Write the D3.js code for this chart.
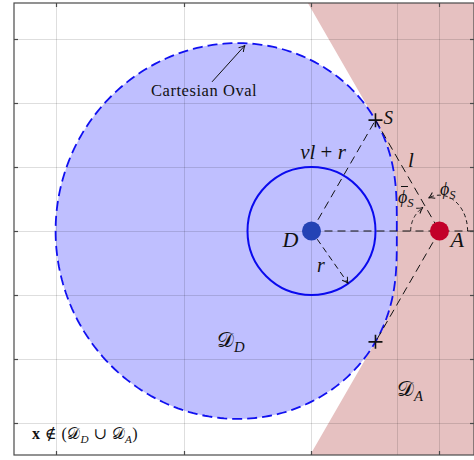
<!DOCTYPE html>
<html>
<head>
<meta charset="utf-8">
<script src="https://cdn.jsdelivr.net/npm/d3@7"></script>
<style>
  html, body { margin: 0; padding: 0; background: #fff; }
  svg { display: block; }
  text { font-family: "Liberation Serif", "DejaVu Serif", serif; fill: #111; }
</style>
</head>
<body>
<svg id="chart" width="474" height="460"></svg>
<script>
// ---- data ----------------------------------------------------------
const xTicks = [-4, -2, 0, 2];
const yTicks = [-3, -2, -1, 0, 1, 2, 3];
const xGridExtra = [4 / 3];          // rightmost point of the oval on the D–A axis
const pointD = [0, 0];               // defender
const pointA = [2, 0];               // attacker
const nu = 0.5;                      // speed ratio ν
const radiusR = 1;                   // capture radius r
const angleS = 60;                   // direction of S seen from D (degrees)
const angleRArrow = -55;             // direction of the r arrow (degrees)
const xDomain = [-4.65, 2.54];
const yDomain = [-3.5, 3.5625];

// ---- layout --------------------------------------------------------
const svg = d3.select("#chart");
const x = d3.scaleLinear().domain(xDomain).range([14, 474]);
const y = d3.scaleLinear().domain(yDomain).range([455, 3]);
const rad = Math.PI / 180;
const ux = 64; // pixels per unit (x and y share it)

// Cartesian oval |p - D| = ν|p - A| + r, in polar form around D
const distDA = Math.hypot(pointA[0] - pointD[0], pointA[1] - pointD[1]);
function ovalRho(thetaDeg) {
  const c = Math.cos(thetaDeg * rad);
  const a = 1 - nu * nu;
  const b = radiusR - nu * nu * distDA * c;
  const k = radiusR * radiusR - nu * nu * distDA * distDA;
  return (b + Math.sqrt(b * b - a * k)) / a;
}
function ovalPoint(thetaDeg) {
  const rho = ovalRho(thetaDeg);
  return [pointD[0] + rho * Math.cos(thetaDeg * rad), pointD[1] + rho * Math.sin(thetaDeg * rad)];
}
const ovalPts = d3.range(0, 360, 1).map(ovalPoint);
const pS = ovalPoint(angleS);
const pT = ovalPoint(-angleS);

// line from A through a point, extended to a horizontal edge
function extendTo(p, yEdge) {
  const t = (yEdge - pointA[1]) / (p[1] - pointA[1]);
  return [pointA[0] + t * (p[0] - pointA[0]), yEdge];
}
const topHit = extendTo(pS, yDomain[1]);
const botHit = extendTo(pT, yDomain[0]);

const line = d3.line().x(d => x(d[0])).y(d => y(d[1]));

// arrow marker
const defs = svg.append("defs");
defs.append("marker").attr("id", "arr")
  .attr("viewBox", "-7 -4 8 8").attr("refX", 0).attr("refY", 0)
  .attr("markerWidth", 8).attr("markerHeight", 8).attr("markerUnits", "userSpaceOnUse")
  .attr("orient", "auto")
  .append("path").attr("d", "M-6,-3.2 Q-2.5,-0.6 0,0 Q-2.5,0.6 -6,3.2")
  .attr("fill", "none").attr("stroke", "#111").attr("stroke-width", 1);

// ---- attacker region D_A ------------------------------------------
const arc = d3.range(-angleS, angleS + 0.5, 1).map(ovalPoint);
const pinkPoly = [topHit, [xDomain[1], yDomain[1]], [xDomain[1], yDomain[0]], botHit, pT, ...arc, pS];
svg.append("path").attr("d", line(pinkPoly) + "Z").attr("fill", "#e6c1c1");

// ---- defender region D_D (oval) -----------------------------------
svg.append("path").attr("d", line(ovalPts) + "Z").attr("fill", "#bfbfff");

// ---- grid ----------------------------------------------------------
const grid = svg.append("g").attr("stroke", "rgba(0,0,0,0.13)").attr("stroke-width", 1);
[...xTicks, ...xGridExtra].forEach(v => {
  grid.append("line").attr("x1", Math.round(x(v)) + 0.5).attr("x2", Math.round(x(v)) + 0.5)
    .attr("y1", y(yDomain[1])).attr("y2", y(yDomain[0]));
});
yTicks.forEach(v => {
  grid.append("line").attr("y1", Math.round(y(v)) + 0.5).attr("y2", Math.round(y(v)) + 0.5)
    .attr("x1", x(xDomain[0])).attr("x2", x(xDomain[1]));
});

// oval outline
svg.append("path").attr("d", line(ovalPts) + "Z").attr("fill", "none")
  .attr("stroke", "#1010f0").attr("stroke-width", 1.8).attr("stroke-dasharray", "10,5");

// capture circle
svg.append("circle").attr("cx", x(pointD[0])).attr("cy", y(pointD[1]))
  .attr("r", radiusR * ux).attr("fill", "none").attr("stroke", "#0a0aee").attr("stroke-width", 2);

// dashed construction lines
const dash = svg.append("g").attr("stroke", "#111").attr("stroke-width", 1).attr("fill", "none")
  .attr("stroke-dasharray", "8,5");
dash.append("path").attr("d", line([pointD, pS]));
dash.append("path").attr("d", line([pS, pointA]));
dash.append("path").attr("d", line([pointA, pT]));
dash.append("path").attr("d", line([pointD, [xDomain[1], 0]]));

// r arrow
const rEnd = [pointD[0] + radiusR * Math.cos(angleRArrow * rad), pointD[1] + radiusR * Math.sin(angleRArrow * rad)];
svg.append("path").attr("d", line([pointD, rEnd])).attr("stroke", "#111").attr("stroke-width", 1)
  .attr("stroke-dasharray", "6,4").attr("fill", "none").attr("marker-end", "url(#arr)");

// angle arcs at A
function arcPath(cx, cy, rx, ry, a0, a1) {
  return d3.range(0, 41).map(i => {
    const a = (a0 + (a1 - a0) * i / 40) * rad;
    return [cx + rx * Math.cos(a), cy + ry * Math.sin(a)];
  });
}
svg.append("path").attr("d", line(arcPath(pointA[0], pointA[1], 0.45, 0.45, 180, 125)))
  .attr("stroke", "#111").attr("stroke-width", 1).attr("stroke-dasharray", "4,3").attr("fill", "none")
  .attr("marker-end", "url(#arr)");
svg.append("path").attr("d", line(arcPath(pointA[0], pointA[1], 0.44, 0.56, 0, 113)))
  .attr("stroke", "#111").attr("stroke-width", 1).attr("stroke-dasharray", "4,3").attr("fill", "none")
  .attr("marker-end", "url(#arr)");

// Cartesian oval pointer
const ptrFrom = [-1.555, 2.33], ptrTo = [-1.04, 2.9];
svg.append("path").attr("d", line([ptrFrom, ptrTo])).attr("stroke", "#111").attr("stroke-width", 1)
  .attr("fill", "none").attr("marker-end", "url(#arr)");

// points D and A
svg.append("circle").attr("cx", x(pointD[0])).attr("cy", y(pointD[1])).attr("r", 9.5).attr("fill", "#2443b5");
svg.append("circle").attr("cx", x(pointA[0])).attr("cy", y(pointA[1])).attr("r", 9.5).attr("fill", "#c20029");

// tangent point markers
[pS, pT].forEach(p => {
  const cx = x(p[0]), cy = y(p[1]);
  svg.append("path").attr("d", `M${cx - 7},${cy}H${cx + 7}M${cx},${cy - 7}V${cy + 7}`)
    .attr("stroke", "#111").attr("stroke-width", 1.6);
});

// ---- frame and ticks ----------------------------------------------
const fr = svg.append("g").attr("stroke", "#4a4a4a").attr("stroke-width", 1.2).attr("fill", "none");
fr.append("rect").attr("x", x(xDomain[0])).attr("y", y(yDomain[1]))
  .attr("width", x(xDomain[1]) - x(xDomain[0])).attr("height", y(yDomain[0]) - y(yDomain[1]));
xTicks.forEach(v => {
  const px = Math.round(x(v)) + 0.5;
  fr.append("line").attr("x1", px).attr("x2", px).attr("y1", y(yDomain[1])).attr("y2", y(yDomain[1]) + 4);
  fr.append("line").attr("x1", px).attr("x2", px).attr("y1", y(yDomain[0])).attr("y2", y(yDomain[0]) - 4);
});
yTicks.forEach(v => {
  const py = Math.round(y(v)) + 0.5;
  fr.append("line").attr("y1", py).attr("y2", py).attr("x1", x(xDomain[0])).attr("x2", x(xDomain[0]) + 4);
  fr.append("line").attr("y1", py).attr("y2", py).attr("x1", x(xDomain[1])).attr("x2", x(xDomain[1]) - 4);
});

// ---- labels ----------------------------------------------------------
function label(px, py, size, parts, anchor, spacing) {
  const t = svg.append("text").attr("x", px).attr("y", py).attr("font-size", size)
    .attr("text-anchor", anchor || "start");
  if (spacing) t.attr("letter-spacing", spacing);
  parts.forEach(p => {
    const s = t.append("tspan").text(p.t);
    if (p.it) s.attr("font-style", "italic");
    if (p.bold) s.attr("font-weight", "bold");
    if (p.sub) s.attr("font-size", size * 0.7).attr("dy", size * 0.22);
    if (p.up) s.attr("dy", -size * 0.22);
    if (p.dx) s.attr("dx", p.dx);
  });
  return t;
}

label(151, 96, 16.5, [{ t: "Cartesian Oval" }], "start", 0.55);
label(x(pS[0]) + 8, y(pS[1]) + 4, 19, [{ t: "S", it: true }]);
label(323, 159, 21, [{ t: "νl", it: true }, { t: " + " }, { t: "r", it: true }], "middle");
label(408, 167, 21, [{ t: "l", it: true }]);
label(x(pointD[0]) - 29, y(pointD[1]) + 16, 22, [{ t: "D", it: true }]);
label(x(pointA[0]) + 11, y(pointA[1]) + 16, 22, [{ t: "A", it: true }]);
label(317, 272, 20, [{ t: "r", it: true }]);
label(440, 195, 18, [{ t: "ϕ", it: true }, { t: "S", it: true, sub: true }]);
label(398, 203, 18, [{ t: "ϕ", it: true }, { t: "S", it: true, sub: true }]);
// bar over the second ϕ
svg.append("line").attr("x1", 401).attr("x2", 408).attr("y1", 186.5).attr("y2", 186.5)
  .attr("stroke", "#111").attr("stroke-width", 1);
label(217, 347, 21, [{ t: "𝒟" }, { t: "D", it: true, sub: true }]);
label(397, 396, 21, [{ t: "𝒟" }, { t: "A", it: true, sub: true }]);
label(32, 439, 16, [{ t: "x", bold: true }, { t: " ∉ (" }, { t: "𝒟" }, { t: "D", it: true, sub: true },
  { t: " ∪ ", up: true }, { t: "𝒟" }, { t: "A", it: true, sub: true }, { t: ")", up: true }], "start", 0.4);
</script>
</body>
</html>
